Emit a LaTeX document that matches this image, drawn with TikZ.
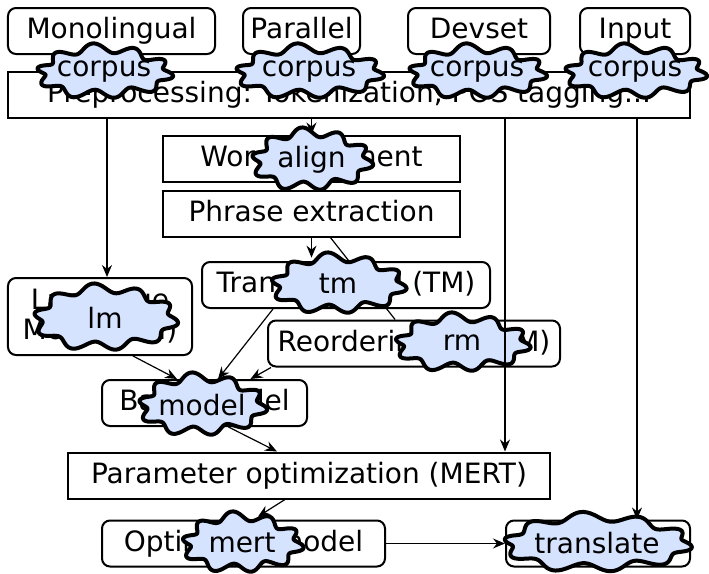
\documentclass[tikz,border=0pt]{standalone}
\usepackage{fontspec}
\setmainfont{DejaVu Sans}
\usetikzlibrary{arrows.meta}
\usetikzlibrary{shapes.geometric}
\tikzset{>={Stealth[length=6pt,width=5pt,inset=2pt]}}
\definecolor{c1}{HTML}{D5E3FF}
\frenchspacing
\tikzstyle{box}=[draw,line width=1pt,minimum height=23pt,inner sep=0pt]
\tikzstyle{task}=[box,text height=10.5pt,text depth=3pt]
\tikzstyle{round task}=[task,rounded corners=4pt]
\tikzstyle{blob}=[draw=black,line width=2pt,line join=round,fill=c1]
\tikzstyle{flow}=[->,line width=0.6pt]
% cloud: name, x, y, half width, half height, text
\newcommand\prog[6]{%
  \draw[blob] plot[variable=\t,domain=0:360,samples=181]
    ({#2+(#4+4.5*sin(10*\t)+1.5*sin(3*\t+40))*cos(\t)},{#3+(#5+4.5*sin(10*\t)+1.5*sin(3*\t+40))*sin(\t)}) -- cycle;
  \node[ellipse,inner sep=0pt,minimum width=#4pt,minimum height=#5pt] (#1) at (#2,#3) {#6};}

\begin{document}
\begin{tikzpicture}[x=0.5pt,y=-0.5pt,font=\fontsize{14}{16}\selectfont]
  \useasboundingbox (0,0) rectangle (709,574);
  % data
  \node[round task,minimum width=103.5pt] (mono) at (111.5,31) {Monolingual};
  \node[round task,minimum width=58.5pt] (par) at (301.5,31) {Parallel};
  \node[round task,minimum width=71pt] (dev) at (479,31) {Devset};
  \node[round task,minimum width=55pt] (inp) at (635,31) {Input};
  \node[task,minimum width=341pt] (prep) at (349,95) {Preprocessing: Tokenization, POS tagging...};
  % training
  \node[task,minimum width=148.5pt] (wa) at (311.5,158.5) {Word alignment};
  \node[task,minimum width=148.5pt] (pe) at (311.5,213.5) {Phrase extraction};
  \node[round task,minimum width=144pt] (tm) at (346,285) {Transl. model (TM)};
  \node[box,rounded corners=4pt,minimum width=92pt,minimum height=38.5pt,align=center,
    font=\fontsize{14}{15}\selectfont] (lm) at (100,316.5) {Language\\Model (LM)};
  \node[round task,minimum width=146pt] (rm) at (414,343.5) {Reordering m. (RM)};
  \node[round task,minimum width=102.5pt] (bm) at (204.5,403) {Basic model};
  % tuning, decoding
  \node[task,minimum width=241pt] (po) at (309,475.5) {Parameter optimization (MERT)};
  \node[round task,minimum width=141.5pt] (om) at (243.5,543.5) {Optimized model};
  \node[round task,minimum width=92pt] (tr) at (598,543.5) {};

  \draw[flow] (prep.south -| wa.north) -- (wa.north);
  \draw[line width=0.6pt] (pe) -- (rm);

  % programs
  \prog{corpus1}{104}{72}{64}{23}{corpus}
  \prog{corpus2}{309}{72}{70}{23}{corpus}
  \prog{corpus3}{477}{72}{65}{23}{corpus}
  \prog{corpus4}{635}{72}{67}{23}{corpus}
  \prog{align}{311.5}{160}{56.5}{27}{align}
  \prog{tmc}{338}{284}{63.5}{26}{tm}
  \prog{lmc}{105}{318}{68}{29}{lm}
  \prog{rmc}{462}{343}{63.5}{25}{rm}
  \prog{model}{202}{405}{60}{27}{model}
  \prog{mert}{242}{543}{56.5}{26}{mert}
  \prog{translate}{597}{543}{90}{25.5}{translate}

  \coordinate (lm in) at ([xshift=3.5pt]lm.north);
  \coordinate (po in) at ([xshift=98pt]po.north);
  \coordinate (tr in) at ([xshift=19.5pt]tr.north);
  \draw[flow] (prep.south -| lm in) -- (lm in);
  \draw[flow] (prep.south -| po in) -- (po in);
  \draw[flow] (prep.south -| tr in) -- (tr in);
  \draw[flow] (pe.south) -- (pe.south |- tmc.north);
  \draw[flow] ([xshift=16.5pt]lm.south) -- ([xshift=-13.75pt]bm.north);
  \draw[flow] ([xshift=-36.5pt]tm.south) -- ([xshift=6.75pt]bm.north);
  \draw[flow] ([xshift=2pt]rm.south west) -- ([xshift=23pt]bm.north);
  \draw[flow] ([xshift=12pt]bm.south) -- ([xshift=-16pt]po.north);
  \draw[flow] ([xshift=-12pt]po.south) -- ([xshift=8pt]mert.north);
  \draw[flow] (om.east) -- (tr.west);
\end{tikzpicture}
\end{document}
